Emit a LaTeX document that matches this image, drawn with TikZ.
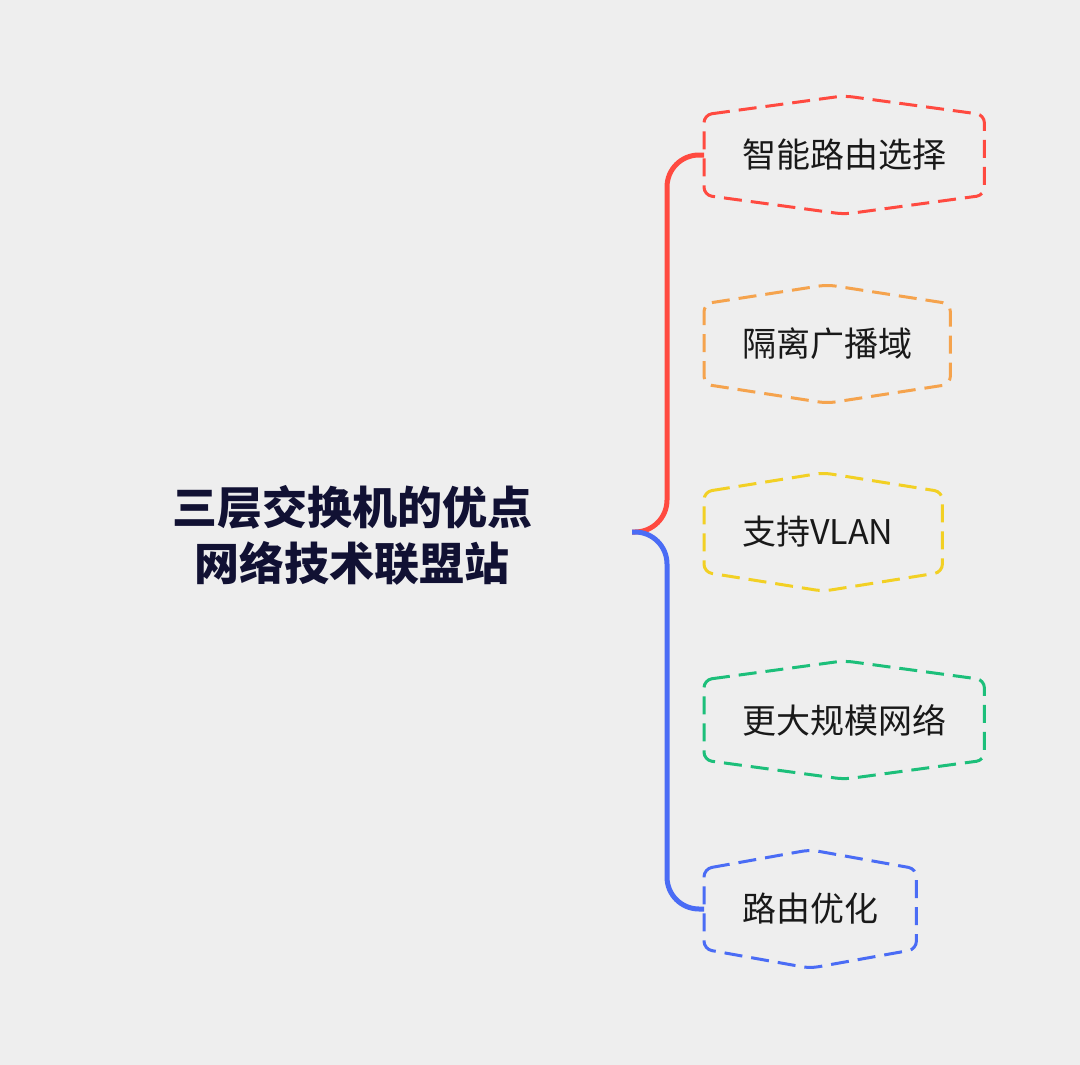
\documentclass[tikz,border=0pt]{standalone}
\usepackage{fontspec}
\setmainfont{Noto Sans CJK SC}

\definecolor{bg}{HTML}{EEEEEE}
\definecolor{cred}{HTML}{FF4A40}
\definecolor{corange}{HTML}{F5A34D}
\definecolor{cyellow}{HTML}{F2D024}
\definecolor{cgreen}{HTML}{1CBF7A}
\definecolor{cblue}{HTML}{4A6CF5}
\definecolor{ctitle}{HTML}{111133}

\tikzset{
	item/.style={anchor=west, inner xsep=38pt, inner ysep=0pt, minimum height=80pt,
		font=\fontsize{34}{40}\selectfont, text=black!90},
	outline/.style={line width=3pt, dash pattern=on 18pt off 9pt, rounded corners=8pt},
	branch/.style={line width=5pt, rounded corners=32pt}
}

\begin{document}
\begin{tikzpicture}[x=1pt,y=-1pt]
		\fill[bg] (0,0) rectangle (1080,1065);
		\useasboundingbox (0,0) rectangle (1080,1065);

		\node[font=\fontsize{45}{56}\selectfont\bfseries, text=ctitle, align=center]
			(title) at (352,535) {三层交换机的优点\\网络技术联盟站};
		\coordinate (root) at (632,532);

		\node[item] (n1) at (704,155) {智能路由选择};
		\node[item] (n2) at (704,344) {隔离广播域};
		\node[item, text width=162pt, align=left] (n3) at (704,532) {支持VLAN};
		\node[item] (n4) at (704,720) {更大规模网络};
		\node[item] (n5) at (704,909) {路由优化};

		\foreach \n/\c in {n1/cred, n2/corange, n3/cyellow, n4/cgreen, n5/cblue}
			\draw[outline, \c] (\n.north west) -- ([yshift=19pt]\n.north) -- (\n.north east)
				-- (\n.south east) -- ([yshift=-19pt]\n.south) -- (\n.south west) -- cycle;

		\draw[branch, cred]  (root) -- ++(35,0) |- (n1.west);
		\draw[branch, cblue] (root) -- ++(35,0) |- (n5.west);
	\end{tikzpicture}
\end{document}
